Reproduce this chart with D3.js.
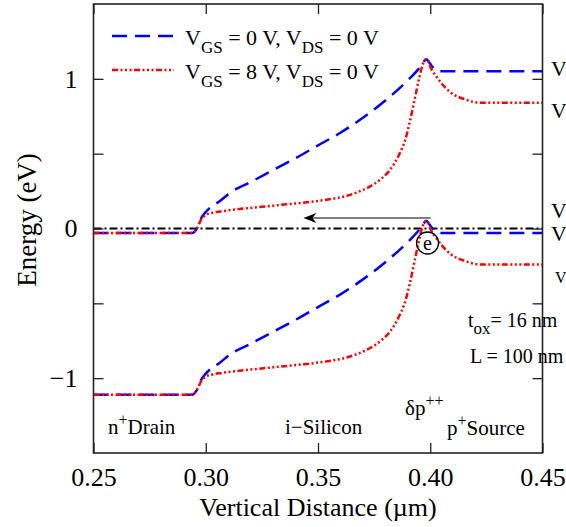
<!DOCTYPE html>
<html><head><meta charset="utf-8">
<script src="https://cdn.jsdelivr.net/npm/d3@7"></script>
<style>
body{margin:0;background:#fff}
svg{display:block}
</style>
</head><body>
<svg id="c" width="566" height="527" font-family="'Liberation Serif', serif"></svg>
<script>
// ---- data ----
const xTicks = [0.25, 0.30, 0.35, 0.40, 0.45];
const yTicks = [-1, -0.5, 0, 0.5, 1];
const yLabelTicks = [-1, 0, 1];

const blueX  = [0.25,0.294,0.296,0.298,0.300,0.302,0.306,0.311,0.32,0.33,0.34,0.35,0.36,0.37,0.38,0.39,0.395,0.397,0.398,0.3985,0.399,0.400,0.401,0.402,0.404,0.45];
const blueEc = [-0.03,-0.03,0.0,0.07,0.11,0.14,0.18,0.24,0.31,0.39,0.47,0.555,0.64,0.74,0.855,0.99,1.07,1.11,1.13,1.13,1.12,1.10,1.08,1.065,1.05,1.05];
const blueEv = [-1.11,-1.11,-1.08,-1.01,-0.97,-0.94,-0.90,-0.84,-0.77,-0.69,-0.61,-0.525,-0.44,-0.34,-0.225,-0.09,-0.01,0.03,0.05,0.05,0.04,0.02,0.00,-0.015,-0.03,-0.03];

const redX  = [0.25,0.294,0.296,0.298,0.300,0.303,0.307,0.315,0.325,0.335,0.345,0.355,0.362,0.368,0.373,0.378,0.382,0.386,0.389,0.391,0.393,0.395,0.3965,0.398,0.399,0.400,0.4025,0.405,0.409,0.415,0.4225,0.43,0.45];
const redEc = [-0.03,-0.03,0.0,0.06,0.09,0.105,0.115,0.13,0.145,0.16,0.175,0.195,0.215,0.245,0.28,0.33,0.39,0.49,0.6,0.72,0.86,1.0,1.09,1.13,1.12,1.08,1.02,0.97,0.91,0.865,0.84,0.84,0.84];
const redEv = [-1.11,-1.11,-1.08,-1.02,-0.99,-0.975,-0.965,-0.95,-0.935,-0.92,-0.905,-0.885,-0.865,-0.835,-0.80,-0.75,-0.69,-0.59,-0.48,-0.36,-0.22,-0.08,0.01,0.05,0.04,0.00,-0.06,-0.11,-0.17,-0.215,-0.24,-0.24,-0.24];

const fermiX = [0.25, 0.45];
const fermiE = [0, 0];

// ---- layout ----
const FONT = "'Liberation Serif', 'Times New Roman', serif";
const svg = d3.select("#c");
const L = 93.5, R = 542.5, T = 4, B = 453;
const x = d3.scaleLinear().domain([0.25, 0.45]).range([L, R]);
const y = d3.scaleLinear().domain([-1.5, 1.5]).range([B, T]);

svg.append("defs").append("clipPath").attr("id","clip")
  .append("rect").attr("x",L).attr("y",T).attr("width",R-L).attr("height",B-T);

const line = d3.line().x(d=>x(d[0])).y(d=>y(d[1])).curve(d3.curveMonotoneX);
const g = svg.append("g").attr("clip-path","url(#clip)");

const BLUE = "#0000ff", RED = "#ff0000";
const blueDash = "15,8";
const redDash = "6,2.5,2,2.5,2,2.5,2,2.5";

// Fermi level
g.append("path").datum(fermiX.map((v,i)=>[v,fermiE[i]]))
  .attr("d", line).attr("fill","none").attr("stroke","#000")
  .attr("stroke-width",2).attr("stroke-dasharray","8,3,2,3");

function drawSeries(xs, ys, color, dash){
  g.append("path").datum(xs.map((v,i)=>[v,ys[i]]))
    .attr("d", line).attr("fill","none").attr("stroke",color)
    .attr("stroke-width",2.5).attr("stroke-dasharray",dash);
}
drawSeries(blueX, blueEc, BLUE, blueDash);
drawSeries(blueX, blueEv, BLUE, blueDash);
drawSeries(redX, redEc, RED, redDash);
drawSeries(redX, redEv, RED, redDash);

// ---- axes ----
const fs = 26;
const ax = svg.append("g").attr("transform",`translate(0,${B})`)
  .call(d3.axisBottom(x).tickValues(xTicks).tickSize(-10).tickPadding(15).tickFormat(d3.format(".2f")));
const axT = svg.append("g").attr("transform",`translate(0,${T})`)
  .call(d3.axisTop(x).tickValues(xTicks).tickSize(-10).tickFormat(""));
const ay = svg.append("g").attr("transform",`translate(${L},0)`)
  .call(d3.axisLeft(y).tickValues(yTicks).tickSize(-10).tickPadding(16)
    .tickFormat(d => yLabelTicks.includes(d) ? d3.format("d")(d) : ""));
const ayR = svg.append("g").attr("transform",`translate(${R},0)`)
  .call(d3.axisRight(y).tickValues(yTicks).tickSize(-10).tickFormat(""));
[ax,axT,ay,ayR].forEach(a=>{
  a.attr("font-family", FONT).attr("font-size", fs);
  a.select(".domain").remove();
  a.selectAll(".tick line").attr("stroke","#222").attr("stroke-width",1.3);
  a.selectAll("text").attr("fill","#000");
});
svg.append("rect").attr("x",L).attr("y",T).attr("width",R-L).attr("height",B-T)
  .attr("fill","none").attr("stroke","#222").attr("stroke-width",1.6);

svg.append("text").attr("x",(L+R)/2).attr("y",516).attr("text-anchor","middle")
  .style("font-size",fs+"px").text("Vertical Distance (µm)");
svg.append("text").attr("transform","translate(36,220) rotate(-90)").attr("text-anchor","middle")
  .style("font-size",(fs+1)+"px").text("Energy (eV)");

// ---- legend ----
const legend = [
  {color:BLUE, dash:blueDash, vgs:"0"},
  {color:RED, dash:redDash, vgs:"8"}
];
legend.forEach((d,i)=>{
  const ly = 36 + i*34;
  svg.append("line").attr("x1",112).attr("x2",174).attr("y1",ly).attr("y2",ly)
    .attr("stroke",d.color).attr("stroke-width",2.5).attr("stroke-dasharray",d.dash);
  const t = svg.append("text").attr("x",185).attr("y",ly+9).style("font-size","22px");
  t.append("tspan").text("V");
  t.append("tspan").attr("dy",8).style("font-size","17px").text("GS");
  t.append("tspan").attr("dy",-8).text(` = ${d.vgs} V, V`);
  t.append("tspan").attr("dy",8).style("font-size","17px").text("DS");
  t.append("tspan").attr("dy",-8).text(" = 0 V");
});

// ---- annotations ----
const ay0 = y(0.07);
svg.append("line").attr("x1",x(0.4002)).attr("x2",x(0.3435)+6).attr("y1",ay0).attr("y2",ay0)
  .attr("stroke","#555").attr("stroke-width",1.6);
svg.append("path").attr("d",`M${x(0.3435)},${ay0} l13,-5 l-4,5 l4,5 Z`).attr("fill","#000");

svg.append("circle").attr("cx",x(0.3988)).attr("cy",243).attr("r",11)
  .attr("fill","none").attr("stroke","#000").attr("stroke-width",1.3);
svg.append("text").attr("x",x(0.3988)).attr("y",249.5).attr("text-anchor","middle")
  .style("font-size","20px").text("e");

const ann = svg.append("g").style("font-size","20px");
const tox = ann.append("text").attr("x",468).attr("y",327);
tox.append("tspan").text("t");
tox.append("tspan").attr("dy",7).style("font-size","17px").text("ox");
tox.append("tspan").attr("dy",-7).text("= 16 nm");
ann.append("text").attr("x",470).attr("y",363).text("L = 100 nm");

const reg = svg.append("g").style("font-size","21px");
function supText(xp, yp, base, sup, rest){
  const t = reg.append("text").attr("x",xp).attr("y",yp);
  t.append("tspan").text(base);
  t.append("tspan").attr("dy",-9).style("font-size","16px").text(sup);
  t.append("tspan").attr("dy",9).text(rest);
}
supText(108, 434, "n", "+", "Drain");
reg.append("text").attr("x",285).attr("y",434).text("i\u2212Silicon");
supText(405, 415, "δp", "++", "");
supText(447, 435, "p", "+", "Source");

// clipped labels at right edge (cut off in the original figure too)
const rl = svg.append("g").style("font-size","22px");
[76,118,218,241].forEach(v=>rl.append("text").attr("x",551).attr("y",v).text("V"));
rl.append("text").attr("x",555).attr("y",283).style("font-size","16px").text("V");

svg.selectAll("text").style("font-family", FONT);
</script>
</body></html>
